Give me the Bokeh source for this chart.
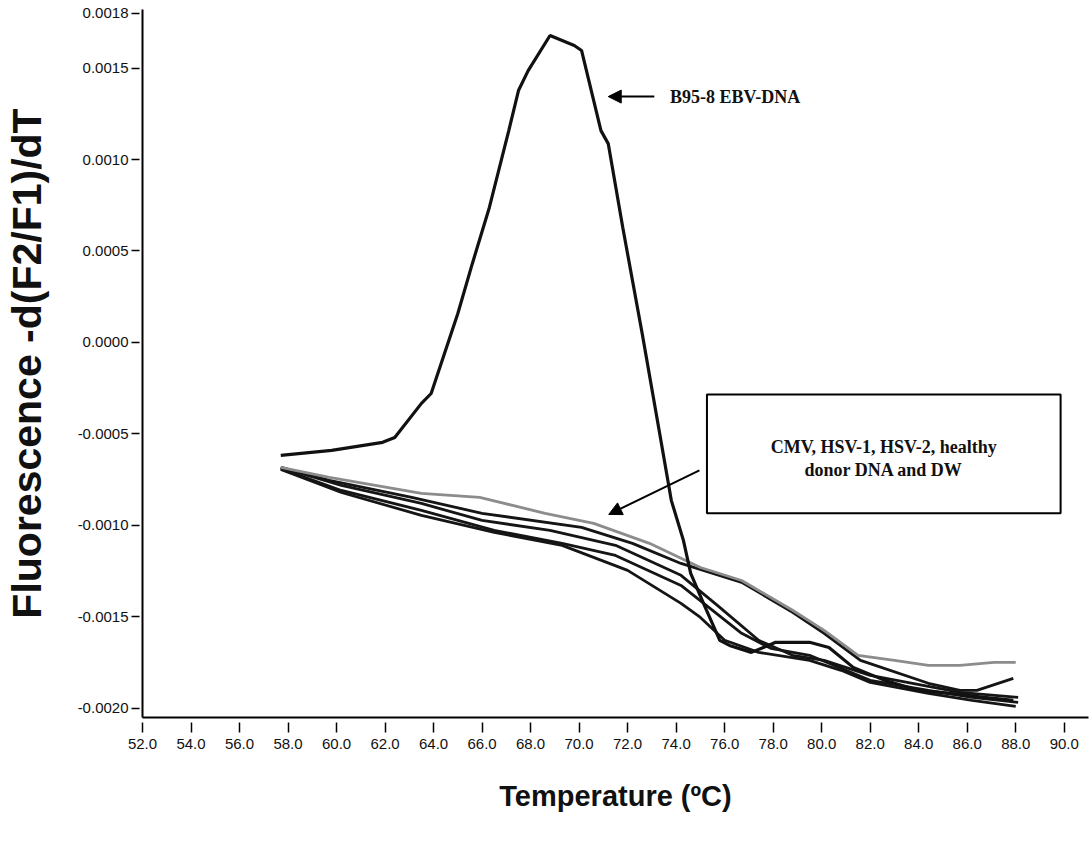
from bokeh.plotting import figure
from bokeh.models import (FixedTicker, PrintfTickFormatter, Arrow, NormalHead,
                          Label, BoxAnnotation, Range1d)
from bokeh.embed import file_html
from bokeh.resources import INLINE

# ---------------- data ----------------
ebv_t = [57.7, 59.8, 61.9, 62.4, 63.5, 63.9, 65.0, 65.6, 66.3, 67.1, 67.5, 67.9,
         68.8, 69.8, 70.1, 70.9, 71.2, 71.8, 72.6, 73.3, 73.8, 74.3, 74.6, 75.2,
         75.8, 76.2, 77.1, 77.8, 78.1, 79.5, 80.3, 81.3, 82.6, 84.0, 85.3, 86.7, 87.9]
ebv_v = [-0.000617, -0.000590, -0.000546, -0.000519, -0.000333, -0.000279, 0.000158,
         0.000432, 0.000738, 0.001158, 0.001377, 0.001486, 0.001678, 0.001623,
         0.001596, 0.001158, 0.001087, 0.000628, 0.000049, -0.000481, -0.000863,
         -0.001082, -0.001262, -0.001448, -0.001628, -0.001656, -0.001694, -0.001656,
         -0.001639, -0.001639, -0.001667, -0.001776, -0.001847, -0.001902, -0.001918,
         -0.001940, -0.001956]

gray_t = [57.7, 59.7, 63.5, 65.9, 68.6, 70.6, 72.9, 75.0, 76.7, 78.8, 80.1, 81.5,
          83.0, 84.4, 85.7, 87.1, 88.0]
gray_v = [-0.000683, -0.000738, -0.000825, -0.000847, -0.000934, -0.000989, -0.001098,
          -0.001230, -0.001301, -0.001464, -0.001574, -0.001710, -0.001738, -0.001765,
          -0.001765, -0.001749, -0.001749]

a_t = [57.7, 59.7, 63.1, 66.0, 70.1, 72.2, 74.2, 76.7, 78.8, 80.1, 81.6, 84.4, 85.7,
       86.4, 87.9]
a_v = [-0.000683, -0.000754, -0.000847, -0.000934, -0.001011, -0.001098, -0.001208,
       -0.001311, -0.001475, -0.001590, -0.001738, -0.001863, -0.001902, -0.001902,
       -0.001836]

b_t = [57.7, 60.2, 63.5, 66.0, 68.8, 71.5, 74.2, 75.7, 77.4, 78.8, 80.1, 82.0, 84.4,
       85.7, 88.1]
b_v = [-0.000683, -0.000781, -0.000880, -0.000973, -0.001027, -0.001109, -0.001273,
       -0.001437, -0.001628, -0.001710, -0.001738, -0.001820, -0.001880, -0.001913,
       -0.001940]

c_t = [57.7, 60.2, 63.5, 66.5, 69.3, 71.5, 74.2, 76.7, 77.9, 79.5, 80.8, 82.0, 84.4,
       86.2, 88.1]
c_v = [-0.000689, -0.000809, -0.000918, -0.001027, -0.001098, -0.001164, -0.001328,
       -0.001590, -0.001672, -0.001710, -0.001781, -0.001847, -0.001902, -0.001940,
       -0.001967]

d_t = [57.7, 60.2, 63.5, 66.5, 69.3, 72.0, 74.2, 75.0, 76.0, 77.4, 79.5, 80.8, 82.0,
       84.4, 86.2, 88.0]
d_v = [-0.000694, -0.000820, -0.000945, -0.001038, -0.001109, -0.001246, -0.001426,
       -0.001503, -0.001628, -0.001694, -0.001738, -0.001792, -0.001858, -0.001918,
       -0.001956, -0.001989]

x_ticks = [52, 54, 56, 58, 60, 62, 64, 66, 68, 70, 72, 74, 76, 78, 80, 82, 84, 86, 88, 90]
y_ticks = [-0.0020, -0.0015, -0.0010, -0.0005, 0.0, 0.0005, 0.0010, 0.0015, 0.0018]

label_ebv = "B95-8 EBV-DNA"
label_ctrl_1 = "CMV, HSV-1, HSV-2, healthy"
label_ctrl_2 = "donor DNA and DW"

# ---------------- figure ----------------
p = figure(width=1090, height=847, x_range=Range1d(52, 91),
           y_range=Range1d(-0.00205, 0.00182),
           output_backend="svg", toolbar_location=None,
           min_border_left=142, min_border_right=2, min_border_top=9,
           min_border_bottom=130)
p.xgrid.visible = False
p.ygrid.visible = False
p.outline_line_color = None
p.background_fill_color = "white"

# control curves
for t, v in [(a_t, a_v), (b_t, b_v), (c_t, c_v), (d_t, d_v)]:
    p.line(t, v, line_color="#151515", line_width=2.8)
p.line(gray_t, gray_v, line_color="#8c8c8c", line_width=2.8)
# EBV curve
p.line(ebv_t, ebv_v, line_color="#111111", line_width=3.2)

# axes
ax = p.xaxis[0]
ax.ticker = FixedTicker(ticks=x_ticks)
ax.formatter = PrintfTickFormatter(format="%.1f")
ax.minor_tick_line_color = None
ax.major_tick_in = -5
ax.major_tick_out = 15
ax.major_tick_line_width = 1.5
ax.axis_line_width = 2
ax.major_label_text_font = "Liberation Sans"
ax.major_label_text_font_size = "15px"
ax.major_label_text_color = "#111111"
ax.major_label_standoff = 6
ax.axis_label = "Temperature (\u00baC)"
ax.axis_label_text_font = "Liberation Sans"
ax.axis_label_text_font_style = "bold"
ax.axis_label_text_font_size = "29px"
ax.axis_label_text_color = "#111111"
ax.axis_label_standoff = 28

ay = p.yaxis[0]
ay.ticker = FixedTicker(ticks=y_ticks)
ay.formatter = PrintfTickFormatter(format="%.4f")
ay.minor_tick_line_color = None
ay.major_tick_in = -3
ay.major_tick_out = 11
ay.major_tick_line_width = 1.5
ay.axis_line_width = 2
ay.major_label_text_font = "Liberation Sans"
ay.major_label_text_font_size = "15px"
ay.major_label_text_color = "#111111"
ay.major_label_standoff = 3
ay.axis_label = "Fluorescence -d(F2/F1)/dT"
ay.axis_label_text_font = "Liberation Sans"
ay.axis_label_text_font_style = "bold"
ay.axis_label_text_font_size = "41px"
ay.axis_label_text_color = "#111111"
ay.axis_label_standoff = 25

# annotations
p.add_layout(Arrow(end=NormalHead(size=13, fill_color="black", line_color="black"),
                   x_start=73.1, y_start=0.001344, x_end=71.2, y_end=0.001344,
                   line_width=2, line_color="black"))
p.add_layout(Label(x=73.75, y=0.001339, text=label_ebv,
                   text_font="Liberation Serif", text_font_style="bold",
                   text_font_size="18px", text_baseline="middle",
                   text_color="#111111"))

p.add_layout(BoxAnnotation(left=75.27, right=89.85, top=-0.000284, bottom=-0.000934,
                           fill_color="white", fill_alpha=1.0,
                           line_color="black", line_width=2, line_alpha=1.0))
p.add_layout(Label(x=82.56, y=-0.000574, text=label_ctrl_1,
                   text_font="Liberation Serif", text_font_style="bold",
                   text_font_size="18px", text_baseline="middle", text_align="center",
                   text_color="#111111"))
p.add_layout(Label(x=82.56, y=-0.000699, text=label_ctrl_2,
                   text_font="Liberation Serif", text_font_style="bold",
                   text_font_size="18px", text_baseline="middle", text_align="center",
                   text_color="#111111"))
p.add_layout(Arrow(end=NormalHead(size=13, fill_color="black", line_color="black"),
                   x_start=74.96, y_start=-0.000699, x_end=71.22, y_end=-0.000940,
                   line_width=2, line_color="black"))

open("out.html", "w").write(file_html(p, INLINE))
